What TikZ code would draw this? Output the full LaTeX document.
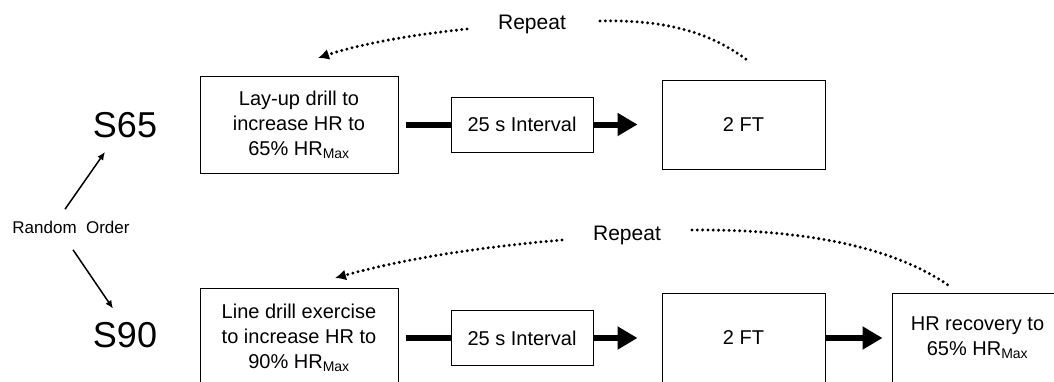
\documentclass[tikz,border=0pt]{standalone}
\usepackage{fontspec}
\setmainfont{Liberation Sans}
\usetikzlibrary{arrows.meta}

\begin{document}
\begin{tikzpicture}[
					x = 1pt, y = -1pt,
					every node/.style = {font = \fontsize{20}{25}\selectfont, align = center},
					stage/.style = {draw, line width = 1pt, inner sep = 0pt},
					session/.style = {font = \fontsize{36}{40}\selectfont, inner sep = 2pt},
					pick/.style = {line width = 1.5pt, -{Latex[length = 8pt, width = 7pt]}},
					flow/.style = {line width = 6pt},
					flowarrow/.style = {flow, -{Triangle[length = 20pt, width = 22pt]}},
					loop/.style = {line width = 3.3pt, dash pattern = on 0pt off 5.3pt, line cap = round},
					loopback/.style = {loop, -{Latex[length = 11pt, width = 11pt]}}
				]

					\clip (0,0) rectangle (1054,381);

					% sessions and the random order
					\node[session] (s65) at (125,125) {S65};
					\node[session] (s90) at (125,335.5) {S90};
					\node[font = \fontsize{17}{19}\selectfont] (rnd) at (71,227) {Random\ \ Order};

					\draw[pick] ([shift = {(-6,-8)}]rnd.north) -- ([shift = {(-20,12)}]s65.south);
					\draw[pick] ([shift = {(2,13)}]rnd.south) -- ([shift = {(-12,-12)}]s90.north);

					% S65 protocol
					\node[stage, minimum width = 198, minimum height = 97] (lay) at (299,124.5) {Lay-up drill to\\increase HR to\\65\% HR\textsubscript{Max}};
					\node[stage, minimum width = 142, minimum height = 55] (int1) at (522,124.5) {25 s Interval};
					\node[stage, minimum width = 163, minimum height = 89] (ft1) at (743.5,124.5) {2 FT};

					\draw[flow, shorten < = 7pt] (lay.east) -- (int1.west);
					\draw[flowarrow, shorten > = 24pt] (int1.east) -- (ft1.west);

					\node[font = \fontsize{21}{25}\selectfont, anchor = base] (rep1) at (532,29) {Repeat};
					\coordinate (rep1 start) at (467,29);
					\coordinate (rep1 end) at (318,58);
					\coordinate (rep1 from) at (600,21);
					\coordinate (rep1 to) at (747,60);
					\draw[loopback] (rep1 start) .. controls (410,35) and (360,44) .. (rep1 end);
					\draw[loop] (rep1 from) .. controls (680,19) and (720,40) .. (rep1 to);

					% S90 protocol
					\node[stage, minimum width = 198, minimum height = 100] (line) at (299,338) {Line drill exercise\\to increase HR to\\90\% HR\textsubscript{Max}};
					\node[stage, minimum width = 142, minimum height = 55] (int2) at (522,338) {25 s Interval};
					\node[stage, minimum width = 163, minimum height = 90] (ft2) at (743.5,338) {2 FT};
					\node[stage, minimum width = 171, minimum height = 90] (hr) at (977.5,338) {HR recovery to\\65\% HR\textsubscript{Max}};

					\draw[flow, shorten < = 7pt] (line.east) -- (int2.west);
					\draw[flowarrow, shorten > = 24pt] (int2.east) -- (ft2.west);
					\draw[flowarrow, shorten > = 9pt] (ft2.east) -- (hr.west);

					\node[font = \fontsize{21}{25}\selectfont, anchor = base] (rep2) at (627,240) {Repeat};
					\coordinate (rep2 start) at (562,240);
					\coordinate (rep2 end) at (335,278);
					\coordinate (rep2 from) at (692,230);
					\coordinate (rep2 to) at (948,285);
					\draw[loopback] (rep2 start) .. controls (470,248) and (400,260) .. (rep2 end);
					\draw[loop] (rep2 from) .. controls (820,229) and (900,252) .. (rep2 to);

				\end{tikzpicture}
\end{document}
